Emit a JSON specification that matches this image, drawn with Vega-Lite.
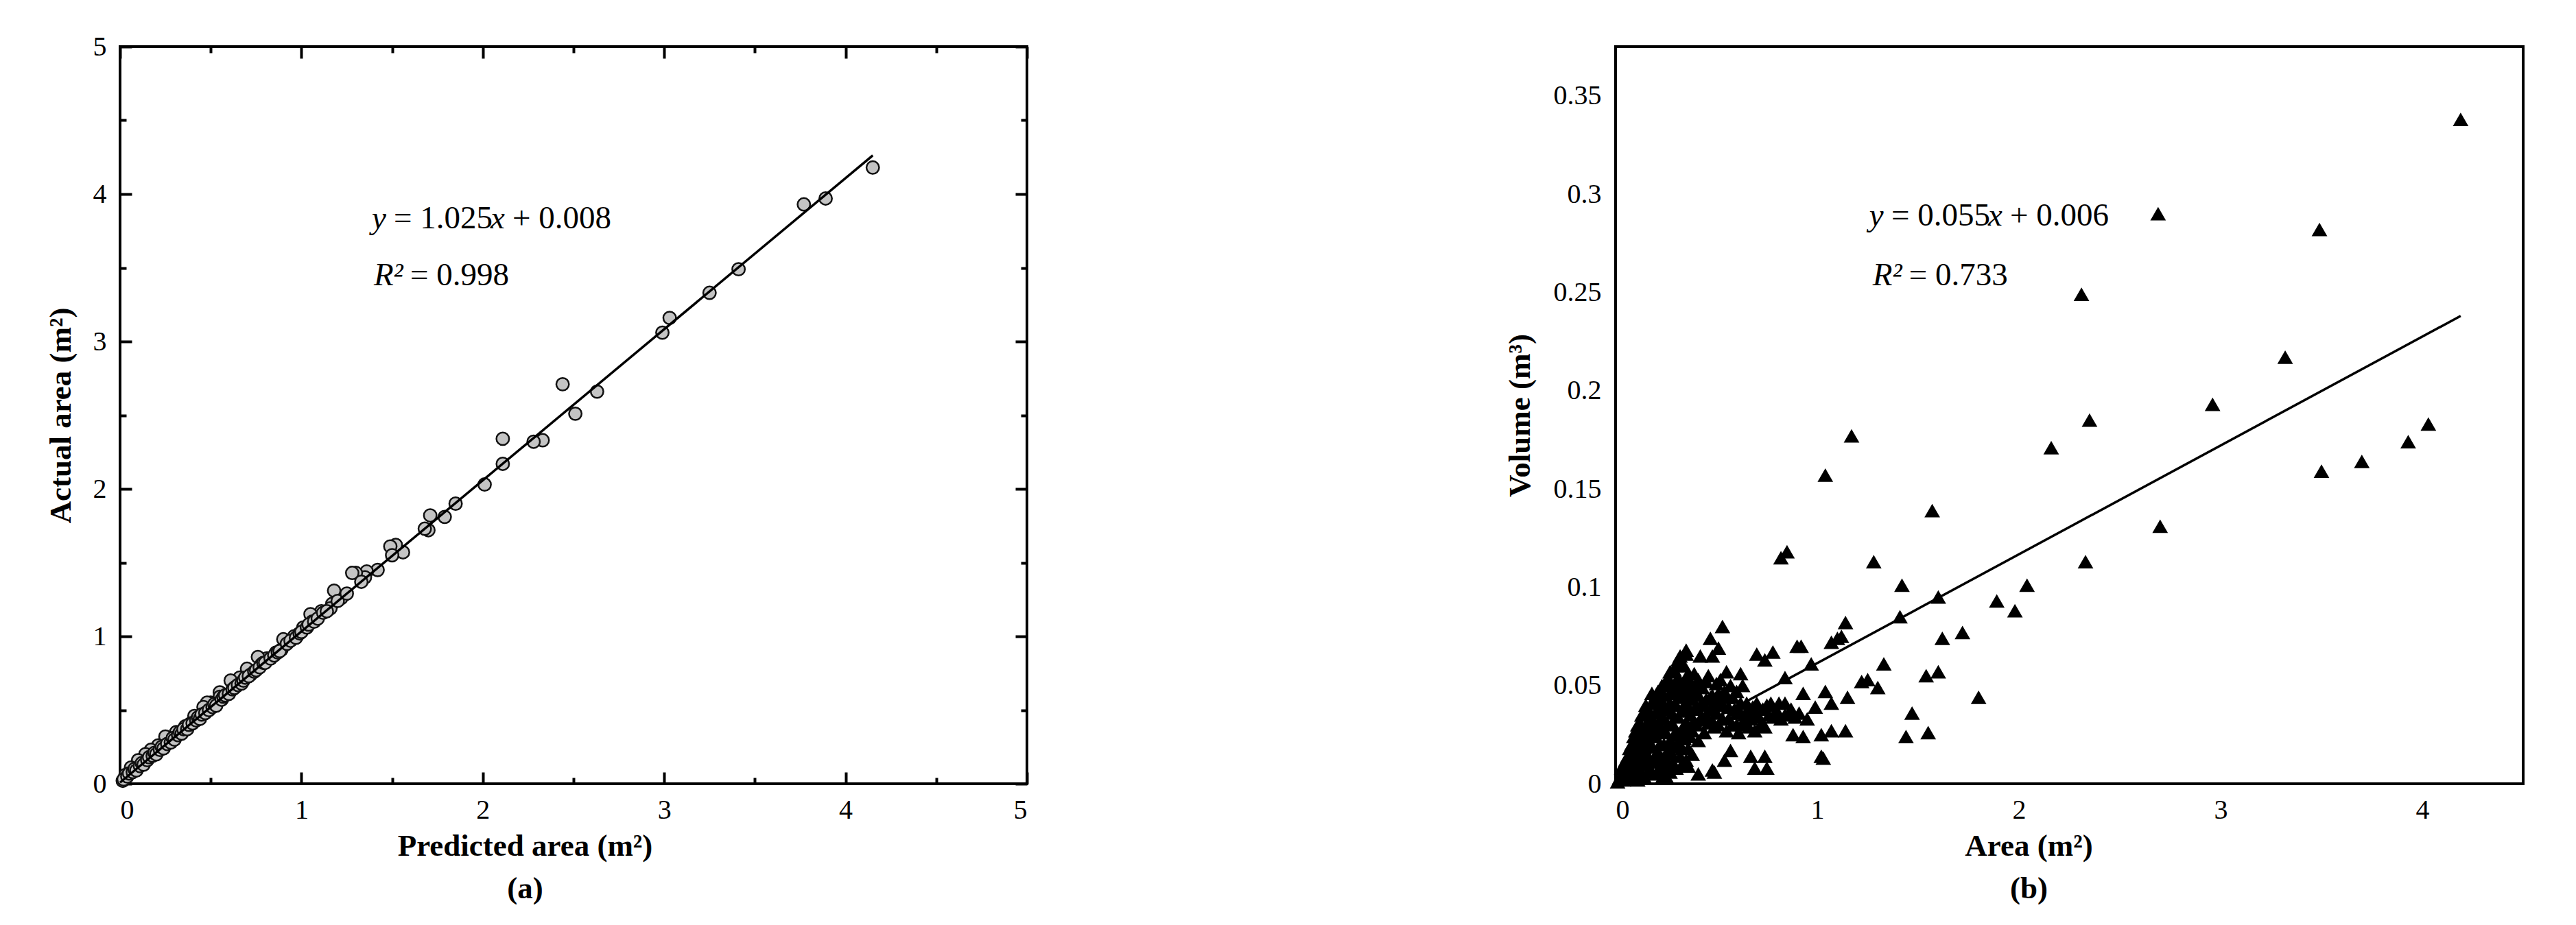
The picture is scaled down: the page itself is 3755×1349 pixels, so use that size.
{
  "$schema": "https://vega.github.io/schema/vega-lite/v6.json",
  "background": "white",
  "padding": {"left": 64, "top": 46, "right": 10, "bottom": 10},
  "bounds": "flush",
  "spacing": 858,
  "config": {
    "view": {"stroke": "black", "strokeWidth": 4},
    "axis": {
      "labelFont": "Liberation Serif", "labelFontSize": 40, "labelColor": "black",
      "titleFont": "Liberation Serif", "titleFontSize": 45, "titleFontWeight": "bold", "titleColor": "black",
      "domain": false, "grid": false, "tickColor": "black", "tickWidth": 4
    }
  },
  "datasets": {
    "ptsA": [
      {"pred":4.15,"act":4.18},{"pred":3.89,"act":3.97},{"pred":3.77,"act":3.93},{"pred":3.41,"act":3.49},{"pred":3.25,"act":3.33},
      {"pred":3.03,"act":3.16},{"pred":2.99,"act":3.06},{"pred":2.63,"act":2.66},{"pred":2.51,"act":2.51},{"pred":2.44,"act":2.71},
      {"pred":2.33,"act":2.33},{"pred":2.28,"act":2.32},{"pred":2.11,"act":2.34},{"pred":2.11,"act":2.17},{"pred":2.01,"act":2.03},
      {"pred":1.85,"act":1.90},{"pred":1.79,"act":1.81},{"pred":1.71,"act":1.82},{"pred":1.70,"act":1.72},{"pred":1.68,"act":1.73},
      {"pred":1.56,"act":1.57},{"pred":1.52,"act":1.62},{"pred":1.49,"act":1.61},{"pred":1.50,"act":1.55},{"pred":1.42,"act":1.45},
      {"pred":1.36,"act":1.44},{"pred":1.35,"act":1.40},{"pred":1.30,"act":1.43},{"pred":1.28,"act":1.43},{"pred":1.22,"act":1.26},
      {"pred":1.18,"act":1.31},{"pred":1.17,"act":1.22},{"pred":1.16,"act":1.19},{"pred":1.11,"act":1.17},{"pred":1.05,"act":1.15},
      {"pred":1.06,"act":1.10},{"pred":1.01,"act":1.06},{"pred":0.98,"act":1.01},{"pred":0.96,"act":1.00},{"pred":0.90,"act":0.98},
      {"pred":0.89,"act":0.91},{"pred":0.86,"act":0.89},{"pred":0.81,"act":0.85},{"pred":0.76,"act":0.86},{"pred":0.78,"act":0.81},
      {"pred":0.70,"act":0.78},{"pred":0.72,"act":0.74},{"pred":0.66,"act":0.72},{"pred":0.61,"act":0.70},{"pred":0.64,"act":0.66},
      {"pred":0.55,"act":0.62},{"pred":0.55,"act":0.59},{"pred":0.50,"act":0.55},{"pred":0.48,"act":0.55},{"pred":0.46,"act":0.52},
      {"pred":0.41,"act":0.46},{"pred":0.39,"act":0.41},{"pred":0.36,"act":0.39},{"pred":0.31,"act":0.35},{"pred":0.27,"act":0.31},
      {"pred":0.25,"act":0.32},{"pred":0.21,"act":0.26},{"pred":0.17,"act":0.23},{"pred":0.14,"act":0.20},{"pred":0.10,"act":0.16},
      {"pred":0.06,"act":0.11},{"pred":0.03,"act":0.06},{"pred":0.015,"act":0.02},
      {"pred":0.02,"act":0.03},{"pred":0.04,"act":0.05},{"pred":0.05,"act":0.07},{"pred":0.07,"act":0.08},{"pred":0.08,"act":0.10},
      {"pred":0.09,"act":0.09},{"pred":0.11,"act":0.12},{"pred":0.12,"act":0.14},{"pred":0.13,"act":0.13},{"pred":0.15,"act":0.16},
      {"pred":0.16,"act":0.18},{"pred":0.18,"act":0.19},{"pred":0.19,"act":0.21},{"pred":0.20,"act":0.20},{"pred":0.22,"act":0.23},
      {"pred":0.23,"act":0.25},{"pred":0.24,"act":0.24},{"pred":0.26,"act":0.27},{"pred":0.28,"act":0.28},{"pred":0.29,"act":0.31},
      {"pred":0.30,"act":0.30},{"pred":0.32,"act":0.33},{"pred":0.33,"act":0.35},{"pred":0.34,"act":0.34},{"pred":0.35,"act":0.37},
      {"pred":0.37,"act":0.37},{"pred":0.38,"act":0.40},{"pred":0.40,"act":0.41},{"pred":0.42,"act":0.43},{"pred":0.43,"act":0.45},
      {"pred":0.44,"act":0.44},{"pred":0.45,"act":0.47},{"pred":0.47,"act":0.48},{"pred":0.49,"act":0.50},{"pred":0.51,"act":0.52},
      {"pred":0.52,"act":0.54},{"pred":0.53,"act":0.53},{"pred":0.56,"act":0.57},{"pred":0.57,"act":0.59},{"pred":0.58,"act":0.60},
      {"pred":0.60,"act":0.61},{"pred":0.62,"act":0.64},{"pred":0.63,"act":0.65},{"pred":0.65,"act":0.67},{"pred":0.67,"act":0.68},
      {"pred":0.68,"act":0.70},{"pred":0.69,"act":0.72},{"pred":0.71,"act":0.73},{"pred":0.74,"act":0.76},{"pred":0.75,"act":0.77},
      {"pred":0.77,"act":0.79},{"pred":0.79,"act":0.82},{"pred":0.80,"act":0.82},{"pred":0.83,"act":0.85},{"pred":0.85,"act":0.87},
      {"pred":0.87,"act":0.89},{"pred":0.88,"act":0.90},{"pred":0.92,"act":0.95},{"pred":0.94,"act":0.97},{"pred":0.97,"act":0.99},
      {"pred":0.99,"act":1.02},{"pred":1.00,"act":1.03},{"pred":1.03,"act":1.06},{"pred":1.04,"act":1.08},{"pred":1.07,"act":1.10},
      {"pred":1.09,"act":1.12},{"pred":1.12,"act":1.16},{"pred":1.14,"act":1.17},{"pred":1.20,"act":1.24},{"pred":1.25,"act":1.29},
      {"pred":1.33,"act":1.37}
    ],
    "lineA": [{"pred":0,"act":0.008},{"pred":4.15,"act":4.262}],
    "txtA_reg": [
      {"x":1.509,"y":3.767,"t":"= 1.025"},
      {"x":2.163,"y":3.767,"t":"+ 0.008"},
      {"x":1.60,"y":3.381,"t":"= 0.998"}
    ],
    "txtA_it": [
      {"x":1.388,"y":3.767,"t":"y"},
      {"x":2.042,"y":3.767,"t":"x"},
      {"x":1.399,"y":3.381,"t":"R²"}
    ],
    "ptsB": [
      {"area":4.19,"vol":0.338},{"area":2.69,"vol":0.290},{"area":3.49,"vol":0.282},{"area":2.31,"vol":0.249},{"area":3.32,"vol":0.217},
      {"area":2.96,"vol":0.193},{"area":2.35,"vol":0.185},{"area":4.03,"vol":0.183},{"area":3.93,"vol":0.174},{"area":1.17,"vol":0.177},
      {"area":2.16,"vol":0.171},{"area":3.70,"vol":0.164},{"area":3.50,"vol":0.159},{"area":1.04,"vol":0.157},{"area":1.57,"vol":0.139},
      {"area":2.70,"vol":0.131},{"area":0.85,"vol":0.118},{"area":0.82,"vol":0.115},{"area":1.28,"vol":0.113},{"area":2.33,"vol":0.113},
      {"area":1.42,"vol":0.101},{"area":2.04,"vol":0.101},{"area":1.60,"vol":0.095},{"area":1.89,"vol":0.093},{"area":1.98,"vol":0.088},
      {"area":1.41,"vol":0.085},{"area":1.14,"vol":0.082},{"area":0.53,"vol":0.080},{"area":1.12,"vol":0.075},{"area":1.10,"vol":0.074},
      {"area":1.07,"vol":0.072},{"area":1.62,"vol":0.074},{"area":1.72,"vol":0.077},{"area":0.47,"vol":0.074},{"area":0.51,"vol":0.069},
      {"area":0.48,"vol":0.065},{"area":0.35,"vol":0.068},{"area":0.42,"vol":0.065},{"area":0.90,"vol":0.070},{"area":0.92,"vol":0.070},
      {"area":0.70,"vol":0.066},{"area":0.78,"vol":0.067},{"area":0.74,"vol":0.063},{"area":0.97,"vol":0.061},{"area":1.33,"vol":0.061},
      {"area":1.54,"vol":0.055},{"area":1.60,"vol":0.057},{"area":1.22,"vol":0.052},{"area":1.25,"vol":0.053},{"area":1.30,"vol":0.049},
      {"area":1.80,"vol":0.044},{"area":1.47,"vol":0.036},{"area":1.44,"vol":0.024},{"area":1.55,"vol":0.026},{"area":1.02,"vol":0.014},
      {"area":1.03,"vol":0.013},{"area":1.14,"vol":0.027},{"area":1.07,"vol":0.027},{"area":1.02,"vol":0.025},{"area":1.15,"vol":0.044},
      {"area":1.04,"vol":0.047},{"area":1.07,"vol":0.041},{"area":0.93,"vol":0.046},{"area":0.91,"vol":0.036},{"area":0.93,"vol":0.024},
      {"area":0.84,"vol":0.054},{"area":0.84,"vol":0.041},{"area":0.88,"vol":0.025},{"area":0.99,"vol":0.039},{"area":0.69,"vol":0.008},
      {"area":0.75,"vol":0.008},{"area":0.67,"vol":0.014},{"area":0.74,"vol":0.014},{"area":0.57,"vol":0.017},{"area":0.54,"vol":0.012},
      {"area":0.36,"vol":0.009},{"area":0.41,"vol":0.005},{"area":0.48,"vol":0.007},{"area":0.49,"vol":0.006},{"area":0.81,"vol":0.041},
      {"area":0.77,"vol":0.041},{"area":0.74,"vol":0.029},{"area":0.69,"vol":0.027},{"area":0.63,"vol":0.031},{"area":0.66,"vol":0.038},
      {"area":0.70,"vol":0.041},{"area":0.62,"vol":0.056},{"area":0.63,"vol":0.050},{"area":0.60,"vol":0.047},{"area":0.55,"vol":0.057},
      {"area":0.52,"vol":0.053},
      {"area":0.01,"vol":0.001},{"area":0.02,"vol":0.003},{"area":0.03,"vol":0.005},{"area":0.04,"vol":0.002},{"area":0.05,"vol":0.008},
      {"area":0.05,"vol":0.004},{"area":0.06,"vol":0.011},{"area":0.07,"vol":0.006},{"area":0.08,"vol":0.014},{"area":0.08,"vol":0.009},
      {"area":0.09,"vol":0.004},{"area":0.10,"vol":0.017},{"area":0.10,"vol":0.010},{"area":0.11,"vol":0.021},{"area":0.12,"vol":0.013},
      {"area":0.12,"vol":0.007},{"area":0.13,"vol":0.025},{"area":0.14,"vol":0.018},{"area":0.14,"vol":0.010},{"area":0.15,"vol":0.030},
      {"area":0.15,"vol":0.022},{"area":0.16,"vol":0.014},{"area":0.16,"vol":0.006},{"area":0.17,"vol":0.035},{"area":0.17,"vol":0.027},
      {"area":0.18,"vol":0.041},{"area":0.18,"vol":0.019},{"area":0.19,"vol":0.031},{"area":0.19,"vol":0.011},{"area":0.20,"vol":0.045},
      {"area":0.20,"vol":0.024},{"area":0.21,"vol":0.037},{"area":0.21,"vol":0.016},{"area":0.22,"vol":0.029},{"area":0.22,"vol":0.008},
      {"area":0.23,"vol":0.050},{"area":0.23,"vol":0.042},{"area":0.24,"vol":0.033},{"area":0.24,"vol":0.020},{"area":0.25,"vol":0.026},
      {"area":0.25,"vol":0.012},{"area":0.26,"vol":0.054},{"area":0.26,"vol":0.038},{"area":0.27,"vol":0.046},{"area":0.27,"vol":0.022},
      {"area":0.28,"vol":0.031},{"area":0.28,"vol":0.015},{"area":0.29,"vol":0.058},{"area":0.29,"vol":0.040},{"area":0.30,"vol":0.049},
      {"area":0.30,"vol":0.026},{"area":0.31,"vol":0.063},{"area":0.31,"vol":0.034},{"area":0.32,"vol":0.044},{"area":0.32,"vol":0.019},
      {"area":0.33,"vol":0.037},{"area":0.33,"vol":0.028},{"area":0.34,"vol":0.052},{"area":0.34,"vol":0.023},{"area":0.35,"vol":0.041},
      {"area":0.35,"vol":0.031},{"area":0.36,"vol":0.056},{"area":0.36,"vol":0.018},{"area":0.37,"vol":0.045},{"area":0.37,"vol":0.035},
      {"area":0.38,"vol":0.027},{"area":0.38,"vol":0.050},{"area":0.39,"vol":0.038},{"area":0.40,"vol":0.047},{"area":0.40,"vol":0.030},
      {"area":0.41,"vol":0.053},{"area":0.41,"vol":0.022},{"area":0.42,"vol":0.040},{"area":0.43,"vol":0.034},{"area":0.43,"vol":0.049},
      {"area":0.44,"vol":0.026},{"area":0.45,"vol":0.043},{"area":0.46,"vol":0.055},{"area":0.46,"vol":0.031},{"area":0.47,"vol":0.038},
      {"area":0.48,"vol":0.045},{"area":0.49,"vol":0.029},{"area":0.50,"vol":0.051},{"area":0.50,"vol":0.036},{"area":0.52,"vol":0.042},
      {"area":0.53,"vol":0.033},{"area":0.54,"vol":0.047},{"area":0.55,"vol":0.027},{"area":0.56,"vol":0.039},{"area":0.58,"vol":0.044},
      {"area":0.58,"vol":0.030},{"area":0.60,"vol":0.036},{"area":0.61,"vol":0.026},{"area":0.62,"vol":0.041},{"area":0.64,"vol":0.035},
      {"area":0.66,"vol":0.029},{"area":0.68,"vol":0.039},{"area":0.71,"vol":0.034},{"area":0.73,"vol":0.038},{"area":0.76,"vol":0.035},
      {"area":0.79,"vol":0.036},{"area":0.82,"vol":0.033},{"area":0.86,"vol":0.036},{"area":0.89,"vol":0.034},{"area":0.95,"vol":0.033},
      {"area":0.15,"vol":0.040},{"area":0.13,"vol":0.035},{"area":0.11,"vol":0.030},{"area":0.09,"vol":0.020},{"area":0.07,"vol":0.015},
      {"area":0.20,"vol":0.005},{"area":0.25,"vol":0.004},{"area":0.30,"vol":0.008},{"area":0.27,"vol":0.006},{"area":0.33,"vol":0.010},
      {"area":0.03,"vol":0.008},{"area":0.04,"vol":0.010},{"area":0.05,"vol":0.012},{"area":0.06,"vol":0.003},{"area":0.06,"vol":0.014},
      {"area":0.07,"vol":0.018},{"area":0.07,"vol":0.010},{"area":0.08,"vol":0.020},{"area":0.09,"vol":0.024},{"area":0.09,"vol":0.013},
      {"area":0.10,"vol":0.027},{"area":0.10,"vol":0.005},{"area":0.11,"vol":0.015},{"area":0.11,"vol":0.008},{"area":0.12,"vol":0.031},
      {"area":0.12,"vol":0.024},{"area":0.13,"vol":0.019},{"area":0.13,"vol":0.011},{"area":0.14,"vol":0.036},{"area":0.14,"vol":0.028},
      {"area":0.15,"vol":0.015},{"area":0.16,"vol":0.038},{"area":0.16,"vol":0.031},{"area":0.16,"vol":0.023},{"area":0.17,"vol":0.019},
      {"area":0.17,"vol":0.012},{"area":0.18,"vol":0.046},{"area":0.18,"vol":0.033},{"area":0.19,"vol":0.025},{"area":0.19,"vol":0.042},
      {"area":0.20,"vol":0.036},{"area":0.20,"vol":0.015},{"area":0.21,"vol":0.047},{"area":0.21,"vol":0.028},{"area":0.22,"vol":0.040},
      {"area":0.22,"vol":0.020},{"area":0.23,"vol":0.034},{"area":0.23,"vol":0.013},{"area":0.24,"vol":0.045},{"area":0.24,"vol":0.027},
      {"area":0.25,"vol":0.051},{"area":0.25,"vol":0.038},{"area":0.26,"vol":0.030},{"area":0.26,"vol":0.017},{"area":0.27,"vol":0.057},
      {"area":0.27,"vol":0.041},{"area":0.28,"vol":0.050},{"area":0.28,"vol":0.036},{"area":0.29,"vol":0.025},{"area":0.29,"vol":0.047},
      {"area":0.30,"vol":0.060},{"area":0.30,"vol":0.040},{"area":0.31,"vol":0.054},{"area":0.31,"vol":0.021},{"area":0.32,"vol":0.065},
      {"area":0.32,"vol":0.050},{"area":0.33,"vol":0.045},{"area":0.33,"vol":0.018},{"area":0.34,"vol":0.060},{"area":0.34,"vol":0.040},
      {"area":0.35,"vol":0.066},{"area":0.35,"vol":0.048},{"area":0.36,"vol":0.038},{"area":0.36,"vol":0.028},{"area":0.37,"vol":0.052},
      {"area":0.37,"vol":0.024},{"area":0.38,"vol":0.043},{"area":0.39,"vol":0.032},{"area":0.39,"vol":0.056},{"area":0.40,"vol":0.039},
      {"area":0.41,"vol":0.045},{"area":0.42,"vol":0.033},{"area":0.42,"vol":0.050},{"area":0.44,"vol":0.040},{"area":0.45,"vol":0.035},
      {"area":0.45,"vol":0.052},{"area":0.47,"vol":0.044},{"area":0.48,"vol":0.032},{"area":0.49,"vol":0.040},{"area":0.51,"vol":0.046},
      {"area":0.51,"vol":0.030},{"area":0.53,"vol":0.040},{"area":0.55,"vol":0.044},{"area":0.56,"vol":0.033},{"area":0.57,"vol":0.050},
      {"area":0.59,"vol":0.038},{"area":0.60,"vol":0.030},{"area":0.62,"vol":0.036},{"area":0.65,"vol":0.041},{"area":0.67,"vol":0.033},
      {"area":0.70,"vol":0.036},{"area":0.72,"vol":0.030},{"area":0.75,"vol":0.040},{"area":0.78,"vol":0.034},{"area":0.80,"vol":0.037},
      {"area":0.84,"vol":0.035},{"area":0.87,"vol":0.038},{"area":0.25,"vol":0.008},{"area":0.28,"vol":0.010},{"area":0.18,"vol":0.006},
      {"area":0.14,"vol":0.004},{"area":0.35,"vol":0.012},{"area":0.38,"vol":0.015},{"area":0.32,"vol":0.014},{"area":0.29,"vol":0.019},
      {"area":0.23,"vol":0.003},{"area":0.11,"vol":0.002}
    ],
    "lineB": [{"area":0,"vol":0.006},{"area":4.19,"vol":0.238}],
    "txtB_reg": [
      {"x":1.367,"y":0.284,"t":"= 0.055"},
      {"x":1.956,"y":0.284,"t":"+ 0.006"},
      {"x":1.455,"y":0.2536,"t":"= 0.733"}
    ],
    "txtB_it": [
      {"x":1.258,"y":0.284,"t":"y"},
      {"x":1.847,"y":0.284,"t":"x"},
      {"x":1.275,"y":0.2536,"t":"R²"}
    ]
  },
  "hconcat": [
    {
      "width": 1322,
      "height": 1075,
      "layer": [
        {
          "data": {"name": "ptsA"},
          "mark": {"type": "point", "shape": "circle", "filled": true, "fill": "#c4c4c4", "stroke": "#111111", "strokeWidth": 2.5, "size": 340, "opacity": 1},
          "encoding": {
            "x": {"field": "pred", "type": "quantitative", "scale": {"domain": [0, 5], "nice": false, "zero": false},
                  "axis": {"orient": "bottom", "values": [0, 1, 2, 3, 4, 5], "ticks": false, "labelPadding": 18, "format": "d",
                           "title": ["Predicted area (m²)", "(a)"], "titlePadding": 10, "titleLineHeight": 62, "titleX": 590}},
            "y": {"field": "act", "type": "quantitative", "scale": {"domain": [0, 5], "nice": false, "zero": false},
                  "axis": {"orient": "left", "values": [0, 1, 2, 3, 4, 5], "ticks": false, "labelPadding": 20, "format": "d",
                           "title": "Actual area (m²)", "titlePadding": 24}}
          }
        },
        {
          "data": {"name": "lineA"},
          "mark": {"type": "line", "color": "black", "strokeWidth": 3.5},
          "encoding": {
            "x": {"field": "pred", "type": "quantitative", "scale": {"domain": [0, 5], "nice": false, "zero": false},
                  "axis": {"orient": "bottom", "values": [0, 0.5, 1, 1.5, 2, 2.5, 3, 3.5, 4, 4.5, 5], "labels": false, "title": null,
                           "tickSize": {"condition": {"test": "datum.value % 1 === 0", "value": -17}, "value": -9}}},
            "y": {"field": "act", "type": "quantitative", "scale": {"domain": [0, 5], "nice": false, "zero": false},
                  "axis": {"orient": "left", "values": [0, 0.5, 1, 1.5, 2, 2.5, 3, 3.5, 4, 4.5, 5], "labels": false, "title": null,
                           "tickSize": {"condition": {"test": "datum.value % 1 === 0", "value": -17}, "value": -9}}}
          }
        },
        {
          "data": {"name": "txtA_reg"},
          "mark": {"type": "text", "font": "Liberation Serif", "fontSize": 47, "align": "left", "baseline": "alphabetic", "color": "black"},
          "encoding": {
            "x": {"field": "x", "type": "quantitative", "scale": {"domain": [0, 5], "nice": false, "zero": false},
                  "axis": {"orient": "top", "values": [0, 0.5, 1, 1.5, 2, 2.5, 3, 3.5, 4, 4.5, 5], "labels": false, "title": null,
                           "tickSize": {"condition": {"test": "datum.value % 1 === 0", "value": -17}, "value": -9}}},
            "y": {"field": "y", "type": "quantitative", "scale": {"domain": [0, 5], "nice": false, "zero": false},
                  "axis": {"orient": "right", "values": [0, 0.5, 1, 1.5, 2, 2.5, 3, 3.5, 4, 4.5, 5], "labels": false, "title": null,
                           "tickSize": {"condition": {"test": "datum.value % 1 === 0", "value": -17}, "value": -9}}},
            "text": {"field": "t"}
          }
        },
        {
          "data": {"name": "txtA_it"},
          "mark": {"type": "text", "font": "Liberation Serif", "fontSize": 47, "fontStyle": "italic", "align": "left", "baseline": "alphabetic", "color": "black"},
          "encoding": {
            "x": {"field": "x", "type": "quantitative", "scale": {"domain": [0, 5], "nice": false, "zero": false}, "axis": null},
            "y": {"field": "y", "type": "quantitative", "scale": {"domain": [0, 5], "nice": false, "zero": false}, "axis": null},
            "text": {"field": "t"}
          }
        }
      ],
      "resolve": {"axis": {"x": "independent", "y": "independent"}}
    },
    {
      "width": 1323,
      "height": 1075,
      "layer": [
        {
          "data": {"name": "ptsB"},
          "mark": {"type": "point", "shape": "triangle-up", "filled": true, "color": "black", "size": 520, "opacity": 1},
          "encoding": {
            "x": {"field": "area", "type": "quantitative", "scale": {"domain": [0, 4.5], "nice": false, "zero": false},
                  "axis": {"orient": "bottom", "values": [0, 1, 2, 3, 4], "ticks": false, "labelPadding": 18, "format": "d",
                           "title": ["Area (m²)", "(b)"], "titlePadding": 10, "titleLineHeight": 62, "titleX": 602}},
            "y": {"field": "vol", "type": "quantitative", "scale": {"domain": [0, 0.375], "nice": false, "zero": false},
                  "axis": {"orient": "left", "values": [0, 0.05, 0.1, 0.15, 0.2, 0.25, 0.3, 0.35], "ticks": false, "labelPadding": 21, "format": "~g",
                           "title": "Volume (m³)", "titlePadding": 26}}
          }
        },
        {
          "data": {"name": "lineB"},
          "mark": {"type": "line", "color": "black", "strokeWidth": 3.5},
          "encoding": {
            "x": {"field": "area", "type": "quantitative", "scale": {"domain": [0, 4.5], "nice": false, "zero": false}, "axis": null},
            "y": {"field": "vol", "type": "quantitative", "scale": {"domain": [0, 0.375], "nice": false, "zero": false}, "axis": null}
          }
        },
        {
          "data": {"name": "txtB_reg"},
          "mark": {"type": "text", "font": "Liberation Serif", "fontSize": 47, "align": "left", "baseline": "alphabetic", "color": "black"},
          "encoding": {
            "x": {"field": "x", "type": "quantitative", "scale": {"domain": [0, 4.5], "nice": false, "zero": false}, "axis": null},
            "y": {"field": "y", "type": "quantitative", "scale": {"domain": [0, 0.375], "nice": false, "zero": false}, "axis": null},
            "text": {"field": "t"}
          }
        },
        {
          "data": {"name": "txtB_it"},
          "mark": {"type": "text", "font": "Liberation Serif", "fontSize": 47, "fontStyle": "italic", "align": "left", "baseline": "alphabetic", "color": "black"},
          "encoding": {
            "x": {"field": "x", "type": "quantitative", "scale": {"domain": [0, 4.5], "nice": false, "zero": false}, "axis": null},
            "y": {"field": "y", "type": "quantitative", "scale": {"domain": [0, 0.375], "nice": false, "zero": false}, "axis": null},
            "text": {"field": "t"}
          }
        }
      ],
      "resolve": {"axis": {"x": "independent", "y": "independent"}}
    }
  ]
}
